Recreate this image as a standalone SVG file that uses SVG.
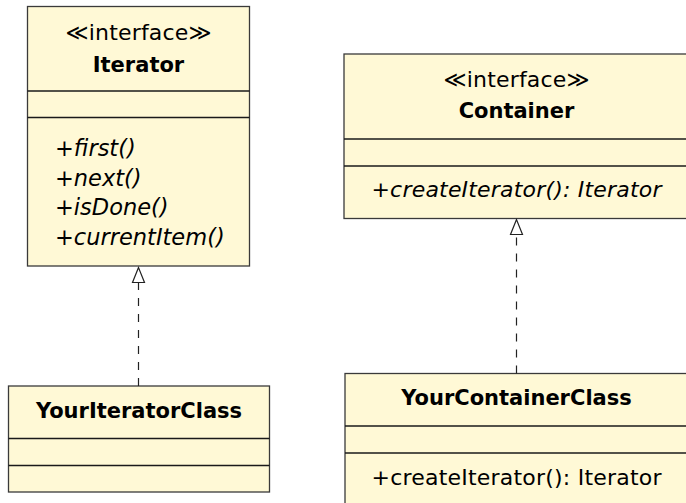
<svg xmlns="http://www.w3.org/2000/svg" width="686" height="503" viewBox="0 0 686 503">
  <style>
    .box { fill: #fff9d6; stroke: #3a3a3a; stroke-width: 1.3; }
    .sep { stroke: #1a1a1a; stroke-width: 1.3; }
    text { font-family: "DejaVu Sans", "Liberation Sans", sans-serif; font-size: 21px; fill: #000; }
    .c { text-anchor: middle; }
    .b { font-weight: bold; }
    .i { font-style: italic; font-size: 22.5px; }
    .m { font-size: 22px; }
    .s { font-size: 22px; }
    .dash { stroke: #222; stroke-width: 1.2; stroke-dasharray: 8 8; fill: none; }
    .head { fill: #fff; stroke: #222; stroke-width: 1.2; }
  </style>

  <!-- interface Iterator -->
  <g id="iterator">
    <rect class="box" x="27.5" y="6.5" width="222" height="259.5"/>
    <line class="sep" x1="27.5" y1="91" x2="249.5" y2="91"/>
    <line class="sep" x1="27.5" y1="117.5" x2="249.5" y2="117.5"/>
    <text class="c s" x="138.5" y="39.5" textLength="146">≪interface≫</text>
    <text class="c b" x="138.5" y="71.5">Iterator</text>
    <text class="i" x="55" y="156">+first()</text>
    <text class="i" x="55" y="185.5">+next()</text>
    <text class="i" x="55" y="215">+isDone()</text>
    <text class="i" x="55" y="245">+currentItem()</text>
  </g>

  <!-- interface Container -->
  <g id="container">
    <rect class="box" x="344" y="54" width="346" height="164.5"/>
    <line class="sep" x1="344" y1="139" x2="690" y2="139"/>
    <line class="sep" x1="344" y1="166" x2="690" y2="166"/>
    <text class="c s" x="516.5" y="86.5" textLength="146">≪interface≫</text>
    <text class="c b" x="516.5" y="118">Container</text>
    <text class="i m" x="371.5" y="196.5" textLength="290">+createIterator(): Iterator</text>
  </g>

  <!-- class YourIteratorClass -->
  <g id="your-iterator-class">
    <rect class="box" x="8.5" y="386" width="261" height="106"/>
    <line class="sep" x1="8.5" y1="438.5" x2="269.5" y2="438.5"/>
    <line class="sep" x1="8.5" y1="465.5" x2="269.5" y2="465.5"/>
    <text class="c b" x="139" y="418">YourIteratorClass</text>
  </g>

  <!-- class YourContainerClass -->
  <g id="your-container-class">
    <rect class="box" x="345" y="373.5" width="345" height="140"/>
    <line class="sep" x1="345" y1="426" x2="690" y2="426"/>
    <line class="sep" x1="345" y1="453" x2="690" y2="453"/>
    <text class="c b" x="516.5" y="405">YourContainerClass</text>
    <text class="m" x="371.5" y="485" textLength="290">+createIterator(): Iterator</text>
  </g>

  <!-- realization connectors -->
  <g id="connectors">
    <line class="dash" x1="138.5" y1="386" x2="138.5" y2="282.5"/>
    <polygon class="head" points="138.5,267.5 132.5,282.5 144.5,282.5"/>
    <line class="dash" x1="516.5" y1="373.5" x2="516.5" y2="234.5"/>
    <polygon class="head" points="516.5,219.5 510.5,234.5 522.5,234.5"/>
  </g>
</svg>
